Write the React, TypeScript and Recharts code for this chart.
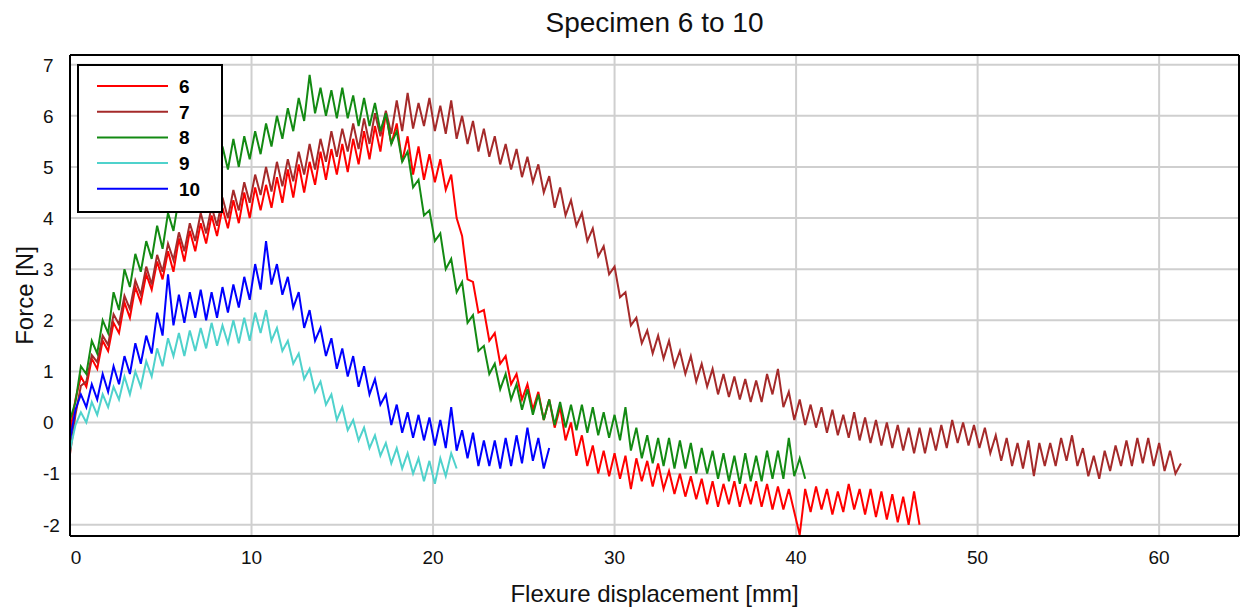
import React from "react";
import {
  LineChart,
  Line,
  XAxis,
  YAxis,
  CartesianGrid,
  ReferenceLine,
} from "recharts";

// sampling interval of the recorded curves (mm)
const STEP = 0.3;

const SPECIMENS = ["6", "7", "8", "9", "10"];
const COLORS = ["#ff0000", "#a52a2a", "#138a13", "#4fd2cc", "#0000ff"];

const X_TICKS = [0, 10, 20, 30, 40, 50, 60];
const Y_TICKS = [-2, -1, 0, 1, 2, 3, 4, 5, 6, 7];

// force [N], one reading every STEP mm
const F6 = [
  -0.2, 0.45, 0.9, 0.7, 1.25, 1.05, 1.6, 1.4, 1.95, 1.75, 2.35, 2.05, 2.65, 2.35, 2.9, 2.6, 3.15, 2.8, 3.35, 2.95,
  3.6, 3.15, 3.75, 3.35, 3.9, 3.5, 4.05, 3.65, 4.2, 3.8, 4.35, 3.9, 4.5, 4.0, 4.6, 4.15, 4.65, 4.2, 4.8, 4.3,
  4.95, 4.4, 5.05, 4.5, 5.1, 4.65, 5.3, 4.75, 5.35, 4.85, 5.45, 4.9, 5.55, 5.05, 5.7, 5.15, 5.8, 5.3, 6.05, 5.45,
  5.85, 5.1, 5.6, 4.85, 5.4, 4.75, 5.25, 4.7, 5.15, 4.55, 4.85, 4.0, 3.65, 2.8, 2.75, 2.15, 2.2, 1.6, 1.75, 1.15,
  1.3, 0.75, 0.95, 0.45, 0.75, 0.25, 0.6, 0.05, 0.45, -0.1, 0.3, -0.35, 0.0, -0.65, -0.25, -0.85, -0.45, -1.0, -0.55, -1.05,
  -0.6, -1.1, -0.65, -1.3, -0.7, -1.15, -0.75, -1.25, -0.8, -1.3, -0.95, -1.4, -1.0, -1.45, -1.05, -1.5, -1.1, -1.6, -1.15, -1.65,
  -1.2, -1.6, -1.15, -1.65, -1.2, -1.6, -1.15, -1.65, -1.2, -1.7, -1.25, -1.7, -1.3, -1.75, -2.2, -1.3, -1.75, -1.25, -1.7, -1.3,
  -1.8, -1.35, -1.75, -1.2, -1.7, -1.3, -1.8, -1.3, -1.85, -1.35, -1.9, -1.4, -1.95, -1.45, -2.0, -1.35, -2.0,
];

const F7 = [
  -0.62, 0.15, 0.72, 0.8, 1.32, 1.18, 1.7, 1.52, 2.12, 1.92, 2.48, 2.22, 2.78, 2.5, 3.05, 2.7, 3.28, 2.95, 3.5, 3.18,
  3.72, 3.35, 3.9, 3.55, 4.1, 3.7, 4.22, 3.85, 4.4, 4.0, 4.55, 4.15, 4.7, 4.3, 4.85, 4.45, 5.0, 4.52, 5.1, 4.62,
  5.15, 4.72, 5.3, 4.85, 5.45, 4.95, 5.55, 5.1, 5.7, 5.2, 5.75, 5.3, 5.85, 5.35, 5.95, 5.45, 6.05, 5.6, 6.1, 5.65,
  6.3, 5.7, 6.45, 5.75, 6.25, 5.8, 6.35, 5.7, 6.2, 5.65, 6.3, 5.55, 6.0, 5.45, 5.9, 5.3, 5.75, 5.2, 5.6, 5.05,
  5.45, 4.95, 5.35, 4.8, 5.2, 4.7, 5.05, 4.5, 4.82, 4.2, 4.6, 4.05, 4.35, 3.85, 4.1, 3.55, 3.8, 3.25, 3.45, 2.9,
  3.05, 2.45, 2.55, 1.9, 2.05, 1.55, 1.8, 1.35, 1.7, 1.25, 1.6, 1.1, 1.4, 0.95, 1.3, 0.8, 1.15, 0.7, 1.05, 0.55,
  0.95, 0.5, 0.9, 0.45, 0.85, 0.4, 0.82, 0.4, 0.95, 0.55, 1.05, 0.3, 0.6, 0.05, 0.45, -0.05, 0.35, -0.1, 0.3, -0.2,
  0.25, -0.25, 0.15, -0.3, 0.2, -0.35, 0.1, -0.4, 0.05, -0.45, 0.0, -0.5, -0.05, -0.55, -0.1, -0.6, -0.1, -0.6, -0.1, -0.55,
  -0.05, -0.5, 0.05, -0.4, 0.0, -0.45, -0.05, -0.5, -0.1, -0.6, -0.25, -0.75, -0.3, -0.85, -0.4, -0.9, -0.35, -1.05, -0.4, -0.85,
  -0.4, -0.85, -0.3, -0.75, -0.25, -0.85, -0.5, -1.05, -0.65, -1.1, -0.55, -0.95, -0.45, -0.85, -0.35, -0.85, -0.3, -0.8, -0.3, -0.85,
  -0.4, -0.95, -0.55, -1.0, -0.8,
];

const F8 = [
  0.05, 0.4, 1.1, 0.95, 1.6, 1.35, 2.0, 1.75, 2.55, 2.2, 3.0, 2.65, 3.3, 2.95, 3.55, 3.2, 3.85, 3.4, 4.1, 3.75,
  4.4, 4.3, 4.9, 4.55, 5.2, 4.75, 5.3, 4.85, 5.4, 4.95, 5.55, 5.0, 5.6, 5.15, 5.7, 5.25, 5.85, 5.4, 6.0, 5.55,
  6.15, 5.7, 6.35, 5.9, 6.8, 6.05, 6.55, 6.0, 6.5, 5.95, 6.55, 5.95, 6.4, 5.8, 6.35, 5.8, 6.25, 5.7, 6.05, 5.45,
  5.7, 5.1, 5.3, 4.6, 4.75, 4.05, 4.15, 3.55, 3.7, 3.0, 3.2, 2.55, 2.75, 1.95, 2.1, 1.4, 1.5, 0.95, 1.15, 0.65,
  0.95, 0.45, 0.75, 0.25, 0.65, 0.15, 0.55, 0.05, 0.45, -0.05, 0.4, -0.1, 0.35, -0.15, 0.35, -0.2, 0.3, -0.25, 0.2, -0.3,
  0.15, -0.35, 0.3, -0.55, -0.1, -0.7, -0.25, -0.8, -0.3, -0.85, -0.3, -0.9, -0.35, -0.9, -0.4, -1.0, -0.5, -1.0, -0.55, -1.1,
  -0.6, -1.15, -0.65, -1.2, -0.6, -1.15, -0.65, -1.15, -0.55, -1.1, -0.55, -1.1, -0.3, -1.05, -0.7, -1.1,
];

const F9 = [
  -0.55, -0.05, 0.2, 0.0, 0.4, 0.15, 0.55, 0.3, 0.7, 0.45, 0.9, 0.55, 1.0, 0.7, 1.2, 0.9, 1.45, 1.1, 1.65, 1.3,
  1.75, 1.3, 1.8, 1.4, 1.85, 1.45, 1.95, 1.5, 1.9, 1.55, 2.0, 1.55, 2.05, 1.6, 2.15, 1.75, 2.2, 1.6, 1.85, 1.4,
  1.6, 1.15, 1.35, 0.85, 1.05, 0.6, 0.8, 0.35, 0.55, 0.05, 0.3, -0.15, 0.05, -0.35, -0.1, -0.5, -0.25, -0.65, -0.4, -0.8,
  -0.5, -0.9, -0.6, -1.0, -0.7, -1.15, -0.75, -1.2, -0.7, -1.05, -0.6, -0.9,
];

const F10 = [
  -0.35, 0.25, 0.55, 0.3, 0.75, 0.45, 0.95, 0.6, 1.1, 0.75, 1.3, 0.95, 1.55, 1.15, 1.7, 1.35, 2.15, 1.7, 2.9, 1.9,
  2.5, 1.95, 2.55, 2.05, 2.6, 2.0, 2.55, 2.05, 2.65, 2.15, 2.7, 2.25, 2.85, 2.4, 3.1, 2.6, 3.55, 2.7, 3.1, 2.5,
  2.85, 2.25, 2.55, 1.85, 2.2, 1.6, 1.85, 1.3, 1.65, 1.05, 1.45, 0.9, 1.3, 0.7, 1.1, 0.55, 0.85, 0.35, 0.55, -0.05,
  0.35, -0.2, 0.2, -0.3, 0.15, -0.35, 0.1, -0.45, 0.05, -0.5, 0.3, -0.55, -0.15, -0.7, -0.2, -0.85, -0.35, -0.85, -0.35, -0.9,
  -0.3, -0.85, -0.25, -0.8, -0.1, -0.75, -0.3, -0.9, -0.5,
];

const SERIES = [F6, F7, F8, F9, F10];

const rows = F7.map((_, i) => {
  const row: Record<string, number | undefined> = { x: Math.round(i * STEP * 10) / 10 };
  SERIES.forEach((s, k) => {
    row["s" + SPECIMENS[k]] = s[i];
  });
  return row;
});

const FONT = "Arial, 'Liberation Sans', sans-serif";

function XTick({ x, y, payload }: any) {
  return (
    <text x={x + (payload.value === 0 ? 6 : 0)} y={y} dy={20} textAnchor="middle" fontSize={19} fill="#111">
      {payload.value}
    </text>
  );
}

function YTick({ y, payload }: any) {
  return (
    <text x={43} y={y} dy="0.36em" textAnchor="start" fontSize={19} fill="#111">
      {payload.value}
    </text>
  );
}

// legend box drawn over the top-left corner of the plot
function LegendBox() {
  return (
    <svg width={146} height={149} style={{ position: "absolute", left: 77, top: 64 }}>
      <rect x={1} y={1} width={144} height={147} fill="#fff" stroke="#000" strokeWidth={2} />
      {SPECIMENS.map((name, i) => {
        const cy = 22 + i * 25.7;
        return (
          <g key={name}>
            <line x1={20} x2={91} y1={cy} y2={cy} stroke={COLORS[i]} strokeWidth={2} />
            <text x={102} y={cy} dy="0.36em" fontSize={19} fontWeight="bold" fill="#000" fontFamily={FONT}>
              {name}
            </text>
          </g>
        );
      })}
    </svg>
  );
}

export default function App() {
  return (
    <div
      style={{
        position: "absolute",
        left: 0,
        top: 0,
        width: 1244,
        height: 612,
        background: "#fff",
        fontFamily: FONT,
      }}
    >
      <svg width={1244} height={44} style={{ position: "absolute", left: 0, top: 0 }}>
        <text x={654.5} y={31.5} textAnchor="middle" fontSize={28} fill="#111" fontFamily={FONT}>
          Specimen 6 to 10
        </text>
      </svg>
      <LineChart
        width={1244}
        height={612}
        data={rows}
        margin={{ top: 55, right: 5, bottom: 0, left: 0 }}
        style={{ fontFamily: FONT }}
      >
        <CartesianGrid stroke="#cfcfcf" strokeWidth={2} />
        <XAxis
          dataKey="x"
          type="number"
          domain={[0, 64.4]}
          ticks={X_TICKS}
          allowDataOverflow
          height={76}
          tickLine={false}
          axisLine={{ stroke: "#000", strokeWidth: 2 }}
          tick={<XTick />}
          label={{
            value: "Flexure displacement [mm]",
            position: "insideBottom",
            offset: 10,
            fontSize: 24,
            fill: "#111",
          }}
        />
        <YAxis
          type="number"
          domain={[-2.22, 7.19]}
          ticks={Y_TICKS}
          allowDataOverflow
          width={70}
          tickLine={false}
          axisLine={{ stroke: "#000", strokeWidth: 2 }}
          tick={<YTick />}
          label={{
            value: "Force [N]",
            angle: -90,
            position: "center",
            dx: -11,
            fontSize: 24,
            fill: "#111",
          }}
        />
        <ReferenceLine y={7.19} stroke="#000" strokeWidth={2} />
        <ReferenceLine x={64.4} stroke="#000" strokeWidth={2} />
        {SPECIMENS.map((name, i) => (
          <Line
            key={name}
            dataKey={"s" + name}
            name={name}
            type="linear"
            stroke={COLORS[i]}
            strokeWidth={2}
            dot={false}
            activeDot={false}
            isAnimationActive={false}
          />
        ))}
      </LineChart>
      <LegendBox />
    </div>
  );
}
